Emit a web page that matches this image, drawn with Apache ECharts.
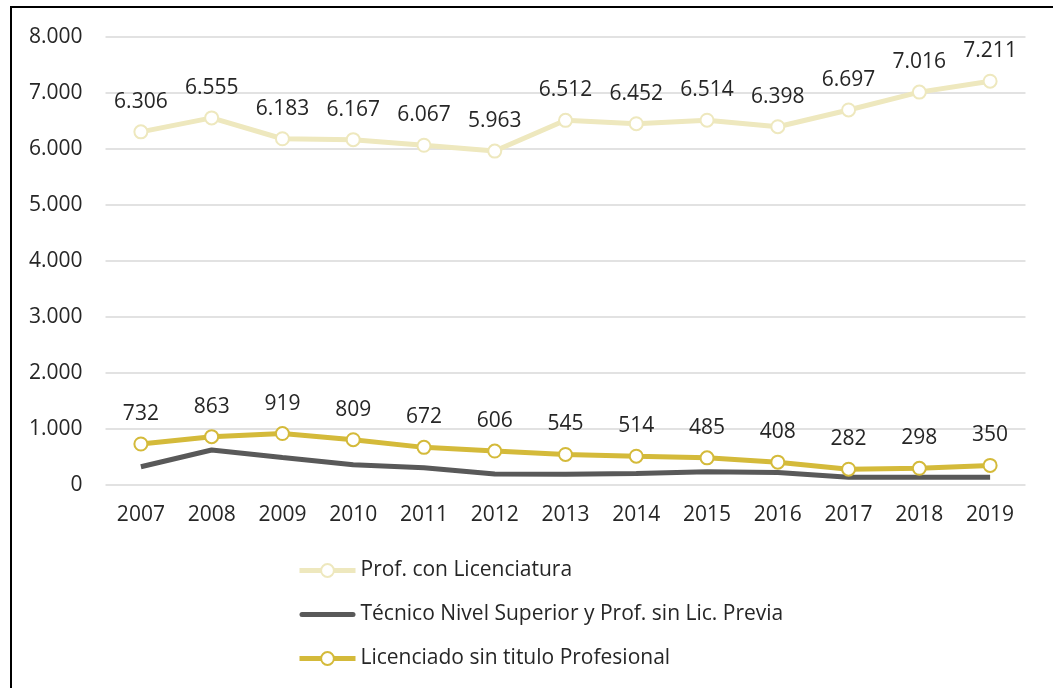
<!DOCTYPE html>
<html><head><meta charset="utf-8">
<script src="https://cdn.jsdelivr.net/npm/echarts@6/dist/echarts.min.js"></script>
<style>html,body{margin:0;padding:0;background:#fff}#c{width:1053px;height:688px}</style>
</head><body><div id="c"></div>
<script>
const years = ['2007','2008','2009','2010','2011','2012','2013','2014','2015','2016','2017','2018','2019'];
const profConLic = [6306,6555,6183,6167,6067,5963,6512,6452,6514,6398,6697,7016,7211];
const tecnicoNivelSup = [325,625,490,360,310,195,190,205,235,225,140,140,140];
const licSinTitulo = [732,863,919,809,672,606,545,514,485,408,282,298,350];
const seriesNames = ['Prof. con Licenciatura','Técnico Nivel Superior y Prof. sin Lic. Previa','Licenciado sin titulo Profesional'];
const yTicks = {min:0, max:8000, interval:1000};

const fmt = v => String(v).replace(/\B(?=(\d{3})+(?!\d))/g, '.');
const FONT = 'Open Sans';
const FS = 21;
const chart = echarts.init(document.getElementById('c'));
const labelCfg = {show:true, position:'top', distance:12, color:'#262626', fontFamily:FONT, fontSize:FS, formatter:p=>fmt(p.value)};
const barIcon = 'path://M2.5,0 H53.5 A2.5,2.5 0 0 1 53.5,5 H2.5 A2.5,2.5 0 0 1 2.5,0 Z';
chart.setOption({
  animation:false,
  textStyle:{fontFamily:FONT},
  graphic:[{type:'rect', shape:{x:11,y:7,width:1200,height:800}, style:{fill:null, stroke:'#000', lineWidth:2}, silent:true}],
  grid:{left:105.5, right:27.5, top:37, bottom:203},
  xAxis:{type:'category', data:years, boundaryGap:true,
    axisLine:{show:false}, axisTick:{show:false},
    axisLabel:{color:'#262626', fontSize:FS, fontFamily:FONT, margin:20}},
  yAxis:{type:'value', min:yTicks.min, max:yTicks.max, interval:yTicks.interval,
    axisLine:{show:false}, axisTick:{show:false},
    splitLine:{lineStyle:{color:'#d9d9d9', width:1.5}},
    axisLabel:{color:'#262626', fontSize:FS, fontFamily:FONT, margin:23, formatter:v=>fmt(v)}},
  legend:{orient:'vertical', left:297, top:560, padding:0, itemWidth:56, itemHeight:16, itemGap:23,
    lineStyle:{width:5},
    textStyle:{color:'#262626', fontSize:FS, fontFamily:FONT},
    data:[{name:seriesNames[0]},{name:seriesNames[1], icon:barIcon},{name:seriesNames[2]}]},
  series:[
    {name:seriesNames[0], type:'line', data:profConLic, symbol:'circle', symbolSize:13,
     lineStyle:{color:'#EEE8BE', width:5}, itemStyle:{color:'#fff', borderColor:'#EEE8BE', borderWidth:2},
     label:labelCfg, z:3},
    {name:seriesNames[1], type:'line', data:tecnicoNivelSup, symbol:'none',
     lineStyle:{color:'#595959', width:5}, itemStyle:{color:'#595959'}, z:2},
    {name:seriesNames[2], type:'line', data:licSinTitulo, symbol:'circle', symbolSize:13,
     lineStyle:{color:'#D4BA3A', width:5}, itemStyle:{color:'#fff', borderColor:'#D4BA3A', borderWidth:2},
     label:labelCfg, z:4}
  ]
});
</script></body></html>
